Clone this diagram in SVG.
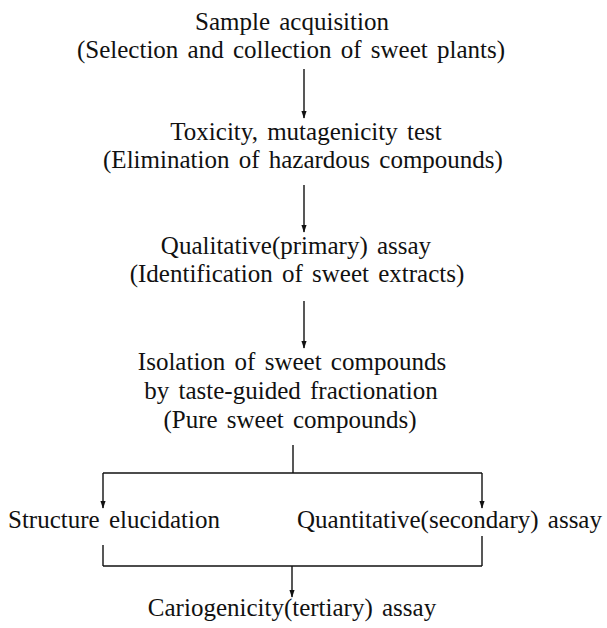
<svg xmlns="http://www.w3.org/2000/svg" width="607" height="628" viewBox="0 0 607 628">
<defs>
<style>
text{font-family:"Liberation Serif","Times New Roman",serif;font-size:25px;fill:#111;word-spacing:3px}
.c{text-anchor:middle}
line{stroke:#111;stroke-width:1.4;fill:none}
</style>
<marker id="ahd" markerUnits="userSpaceOnUse" markerWidth="8" markerHeight="12" refX="11" refY="4" orient="auto" viewBox="0 0 12 8">
<path d="M0,0 L12,4 L0,8 z" fill="#111"/>
</marker>
</defs>
<rect width="607" height="628" fill="#fff"/>
<g id="n1">
<text class="c" x="292" y="30">Sample acquisition</text>
<text class="c" x="291" y="58">(Selection and collection of sweet plants)</text>
</g>
<g id="n2">
<text class="c" x="306" y="140">Toxicity, mutagenicity test</text>
<text class="c" x="303" y="168">(Elimination of hazardous compounds)</text>
</g>
<g id="n3">
<text class="c" x="296" y="254">Qualitative(primary) assay</text>
<text class="c" x="297" y="282">(Identification of sweet extracts)</text>
</g>
<g id="n4">
<text class="c" x="292" y="370">Isolation of sweet compounds</text>
<text class="c" x="291" y="399">by taste-guided fractionation</text>
<text class="c" x="290" y="428">(Pure sweet compounds)</text>
</g>
<g id="n5">
<text x="8" y="528">Structure elucidation</text>
</g>
<g id="n6">
<text x="297" y="528">Quantitative(secondary) assay</text>
</g>
<g id="n7">
<text class="c" x="292" y="616">Cariogenicity(tertiary) assay</text>
</g>
<g id="connectors">
<line x1="304" y1="69" x2="304" y2="118" marker-end="url(#ahd)"/>
<line x1="304" y1="185" x2="304" y2="232" marker-end="url(#ahd)"/>
<line x1="304" y1="301" x2="304" y2="348" marker-end="url(#ahd)"/>
<line x1="293" y1="445" x2="293" y2="473"/>
<line x1="103" y1="473" x2="482" y2="473"/>
<line x1="103" y1="473" x2="103" y2="508" marker-end="url(#ahd)"/>
<line x1="482" y1="473" x2="482" y2="508" marker-end="url(#ahd)"/>
<line x1="103" y1="545" x2="103" y2="566"/>
<line x1="482" y1="536" x2="482" y2="566"/>
<line x1="103" y1="566" x2="482" y2="566"/>
<line x1="292" y1="566" x2="292" y2="597" marker-end="url(#ahd)"/>
</g>
</svg>
